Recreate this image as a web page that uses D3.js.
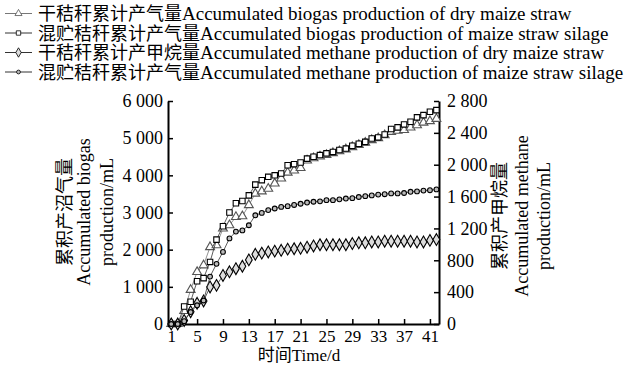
<!DOCTYPE html>
<html><head><meta charset="utf-8">
<script src="https://cdn.jsdelivr.net/npm/d3@7"></script>
<style>
body{margin:0;background:#fff}
text{font-family:"Liberation Serif","Noto Sans CJK SC",serif;fill:#000}
</style></head>
<body><svg id="c" width="625" height="365"></svg>
<script>
const days = d3.range(1, 43);
// left axis (mL biogas)
const dryBiogas = [0,0,350,920,1400,1580,2070,2120,2570,2660,2880,2900,3200,3510,3570,3640,3780,3915,4075,4130,4200,4400,4460,4510,4550,4600,4650,4700,4760,4820,4880,4950,5000,5080,5170,5200,5220,5290,5350,5420,5460,5520];
const silageBiogas = [0,0,470,600,1150,1235,1670,2270,2630,3000,3250,3310,3460,3750,3870,3960,4000,4050,4270,4300,4345,4450,4500,4545,4590,4630,4680,4720,4795,4850,4900,4990,5020,5100,5245,5290,5370,5440,5560,5620,5710,5755];
// right axis (mL methane)
const dryMethane = [0,0,45,155,260,290,465,485,610,655,695,725,805,875,890,905,915,925,940,945,950,965,980,995,995,995,995,995,1010,1020,1020,1030,1030,1040,1040,1040,1040,1040,1030,1030,1050,1060];
const silageMethane = [0,0,35,150,235,295,595,755,905,1075,1160,1175,1240,1365,1395,1430,1450,1470,1480,1495,1510,1525,1535,1540,1555,1555,1565,1575,1580,1595,1605,1615,1625,1630,1640,1640,1645,1660,1665,1675,1680,1690];
const xTicks = [1,5,9,13,17,21,25,29,33,37,41];
const leftTicks = [0,1000,2000,3000,4000,5000,6000];
const rightTicks = [0,400,800,1200,1600,2000,2400,2800];
const legendZh = ["干秸秆累计产气量","混贮秸秆累计产气量","干秸秆累计产甲烷量","混贮秸秆累计产气量"];
const legendEn = [
 "Accumulated biogas production of dry maize straw",
 "Accumulated biogas production of maize straw silage",
 "Accumulated methane production of dry maize straw",
 "Accumulated methane production of maize straw silage"
];
const leftTitle = ["累积产沼气量","Accumulated biogas","production/mL"];
const rightTitle = ["累积产甲烷量","Accumulated methane","production/mL"];
const xTitle = "时间Time/d";

const svg = d3.select("#c");
const x = d3.scaleLinear().domain([0.5, 42.4]).range([168, 439]);
const yL = d3.scaleLinear().domain([0, 6000]).range([324, 101]);
const yR = d3.scaleLinear().domain([0, 2800]).range([324, 101]);
const loc = d3.formatLocale({decimal:".", thousands:" ", grouping:[3], currency:["",""]});
const fmt = loc.format(",");

const series = [
 {data: dryBiogas, y: yL, shape: "tri", stroke: "#555", fill: "#fff", line: "#777"},
 {data: silageBiogas, y: yL, shape: "sq", stroke: "#000", fill: "#fff", line: "#333"},
 {data: dryMethane, y: yR, shape: "dia", stroke: "#000", fill: "#ddd", line: "#333"},
 {data: silageMethane, y: yR, shape: "cir", stroke: "#000", fill: "#bbb", line: "#333"}
];
const sym = {
 tri: d3.symbol().type(d3.symbolTriangle).size(34),
 sq: d3.symbol().type(d3.symbolSquare).size(30),
 dia: d3.symbol().type(d3.symbolDiamond).size(40),
 cir: d3.symbol().type(d3.symbolCircle).size(18)
};

// axes
const gx = svg.append("g").attr("transform","translate(0,324)")
 .call(d3.axisBottom(x).tickValues(xTicks).tickSize(-5).tickPadding(5.5).tickSizeOuter(0));
const gl = svg.append("g").attr("transform","translate(168,0)")
 .call(d3.axisLeft(yL).tickValues(leftTicks).tickSize(-5).tickPadding(5).tickFormat(fmt).tickSizeOuter(0));
const gr = svg.append("g").attr("transform","translate(439,0)")
 .call(d3.axisRight(yR).tickValues(rightTicks).tickSize(-5).tickPadding(8).tickFormat(fmt).tickSizeOuter(0));
[gx,gl,gr].forEach(g=>{
 g.selectAll(".domain").attr("stroke","#000").attr("stroke-width",2);
 g.selectAll(".tick line").attr("stroke","#000").attr("stroke-width",1.5);
 g.selectAll("text").attr("font-size",18).attr("font-family",'"Liberation Serif",serif');
});
gx.selectAll("text").attr("font-size",17);

// series
series.forEach(s=>{
 const line = d3.line().x((d,i)=>x(days[i])).y(d=>s.y(d));
 svg.append("path").attr("d", line(s.data)).attr("fill","none").attr("stroke",s.line).attr("stroke-width",0.8);
 svg.append("g").selectAll("path").data(s.data).join("path")
  .attr("d", sym[s.shape]())
  .attr("transform",(d,i)=>`translate(${x(days[i])},${s.y(d)})`)
  .attr("fill",s.fill).attr("stroke",s.stroke).attr("stroke-width",1.1);
});

// legend
const ly = [13.5, 33, 52.5, 72];
series.forEach((s,i)=>{
 const g = svg.append("g");
 g.append("line").attr("x1",5).attr("x2",32).attr("y1",ly[i]).attr("y2",ly[i]).attr("stroke",s.line).attr("stroke-width",1);
 g.append("path").attr("d", sym[s.shape]()).attr("transform",`translate(18.5,${ly[i]}) scale(0.8)`)
  .attr("fill",s.fill).attr("stroke",s.stroke).attr("stroke-width",1);
 const t = g.append("text").attr("x",38).attr("y",ly[i]+6.5).attr("font-size",18);
 t.append("tspan").text(legendZh[i]);
 t.append("tspan").attr("font-size",19).text(legendEn[i]);
});

// axis titles
const lx = [70.5, 90, 112.5];
leftTitle.forEach((t,i)=>{
 svg.append("text").attr("transform",`translate(${lx[i]},212) rotate(-90)`).attr("text-anchor","middle").attr("font-size",18).text(t);
});
const rx = [506, 528, 550];
rightTitle.forEach((t,i)=>{
 svg.append("text").attr("transform",`translate(${rx[i]},216) rotate(-90)`).attr("text-anchor","middle").attr("font-size",18).text(t);
});
svg.append("text").attr("x",299).attr("y",361).attr("text-anchor","middle").attr("font-size",17).text(xTitle);
</script></body></html>
